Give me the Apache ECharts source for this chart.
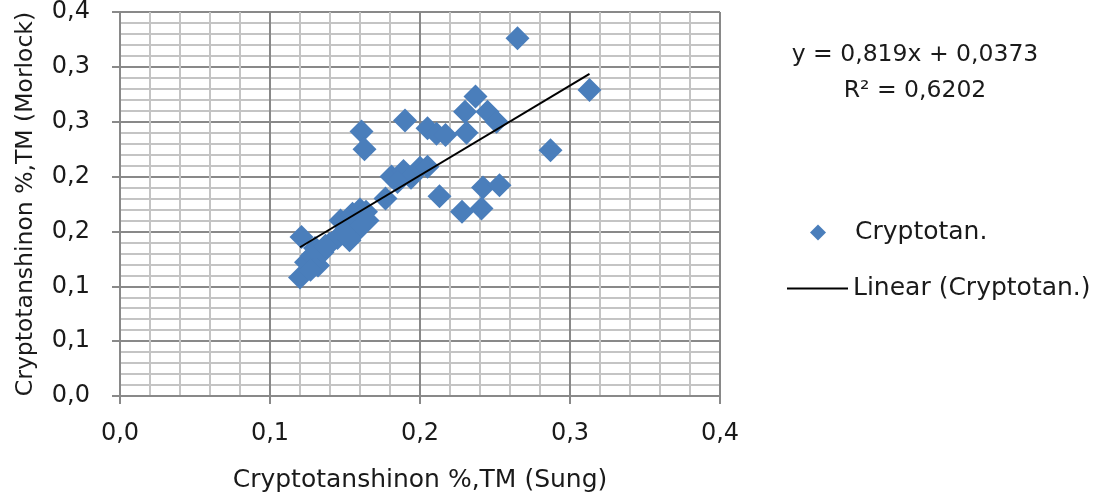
<!DOCTYPE html>
<html>
<head>
<meta charset="utf-8">
<script src="https://cdn.jsdelivr.net/npm/echarts@6/dist/echarts.min.js"></script>
<style>
  html, body { margin: 0; padding: 0; background: #fff; }
  #chart { width: 1096px; height: 501px; }
</style>
</head>
<body>
<div id="chart"></div>
<script>
// Sung (x) vs Morlock (y)
const sungValues = [
  0.265, 0.313, 0.287, 0.237, 0.230, 0.245, 0.251, 0.190, 0.205, 0.211,
  0.217, 0.231, 0.161, 0.163, 0.242, 0.253, 0.241, 0.228, 0.213, 0.181,
  0.189, 0.194, 0.200, 0.205, 0.185, 0.177, 0.121, 0.120, 0.124, 0.128,
  0.132, 0.127, 0.135, 0.140, 0.145, 0.147, 0.151, 0.153, 0.155, 0.157,
  0.160, 0.161, 0.164, 0.165, 0.149, 0.130, 0.137
]
const morlockValues = [
  0.326, 0.279, 0.224, 0.273, 0.259, 0.259, 0.250, 0.251, 0.244, 0.239,
  0.238, 0.240, 0.241, 0.225, 0.190, 0.192, 0.171, 0.168, 0.182, 0.200,
  0.205, 0.199, 0.208, 0.209, 0.195, 0.180, 0.145, 0.108, 0.122, 0.128,
  0.119, 0.115, 0.131, 0.139, 0.144, 0.160, 0.153, 0.142, 0.166, 0.149,
  0.170, 0.156, 0.168, 0.160, 0.149, 0.135, 0.137
]
const xTickLabels = ['0,0', '0,1', '0,2', '0,3', '0,4']
const yTickLabels = ['0,0', '0,1', '0,1', '0,2', '0,2', '0,3', '0,3', '0,4']
const slope = 0.819
const intercept = 0.0373
const equationText = 'y = 0,819x + 0,0373\nR² = 0,6202'

const points = sungValues.map((x, i) => [x, morlockValues[i]])
const xMin = Math.min(...sungValues)
const xMax = Math.max(...sungValues)
const trendPoints = [
  [xMin, slope * xMin + intercept],
  [xMax, slope * xMax + intercept]
]

const font = 'DejaVu Sans'
const textColor = '#1a1a1a'
const majorLine = { color: '#898989', width: 2 }
const minorLine = { color: '#c4c4c4', width: 2 }

const mychart = echarts.init(document.getElementById('chart'))
const option = {
  animation: false,
  textStyle: { fontFamily: font, color: textColor },
  grid: { left: 120, right: 376, top: 12, bottom: 105, containLabel: false },
  xAxis: {
    type: 'value',
    min: 0,
    max: 0.4,
    interval: 0.1,
    name: 'Cryptotanshinon %,TM (Sung)',
    nameLocation: 'middle',
    nameGap: 72,
    nameTextStyle: { fontFamily: font, fontSize: 25, color: textColor },
    axisLine: { show: true, lineStyle: majorLine },
    axisTick: { show: true, length: 8, lineStyle: majorLine },
    axisLabel: {
      margin: 26,
      fontFamily: font,
      fontSize: 24,
      color: textColor,
      formatter: v => xTickLabels[Math.round(v / 0.1)]
    },
    splitLine: { show: true, lineStyle: majorLine },
    minorTick: { show: false, splitNumber: 5 },
    minorSplitLine: { show: true, lineStyle: minorLine }
  },
  yAxis: {
    type: 'value',
    min: 0,
    max: 0.35,
    interval: 0.05,
    name: 'Cryptotanshinon %,TM (Morlock)',
    nameLocation: 'middle',
    nameGap: 82,
    nameTextStyle: { fontFamily: font, fontSize: 23.5, color: textColor },
    axisLine: { show: true, lineStyle: majorLine },
    axisTick: { show: true, length: 8, lineStyle: majorLine },
    axisLabel: {
      margin: 30,
      fontFamily: font,
      fontSize: 24,
      color: textColor,
      formatter: v => yTickLabels[Math.round(v / 0.05)]
    },
    splitLine: { show: true, lineStyle: majorLine },
    minorTick: { show: false, splitNumber: 5 },
    minorSplitLine: { show: true, lineStyle: minorLine }
  },
  legend: [
    {
      left: 810,
      top: 220,
      padding: 0,
      itemWidth: 16,
      itemHeight: 16,
      textStyle: { fontFamily: font, fontSize: 25, color: textColor, padding: [0, 0, 0, 24] },
      data: [{ name: 'Cryptotan.', icon: 'diamond' }]
    },
    {
      left: 787,
      top: 276,
      padding: 0,
      itemWidth: 61,
      itemHeight: 2,
      textStyle: { fontFamily: font, fontSize: 25, color: textColor },
      data: [{ name: 'Linear (Cryptotan.)', icon: 'rect' }]
    }
  ],
  graphic: [
    {
      type: 'text',
      x: 915,
      y: 37,
      style: {
        text: equationText,
        font: '23.5px "DejaVu Sans"',
        fill: textColor,
        align: 'center',
        lineHeight: 36
      }
    }
  ],
  series: [
    {
      name: 'Cryptotan.',
      type: 'scatter',
      symbol: 'diamond',
      symbolSize: 24,
      itemStyle: { color: '#4a7ebb', opacity: 1 },
      data: points,
      z: 2
    },
    {
      name: 'Linear (Cryptotan.)',
      type: 'line',
      showSymbol: false,
      symbol: 'none',
      lineStyle: { color: '#000', width: 2 },
      itemStyle: { color: '#000' },
      data: trendPoints,
      z: 3
    }
  ]
}
mychart.setOption(option)
</script>
</body>
</html>
